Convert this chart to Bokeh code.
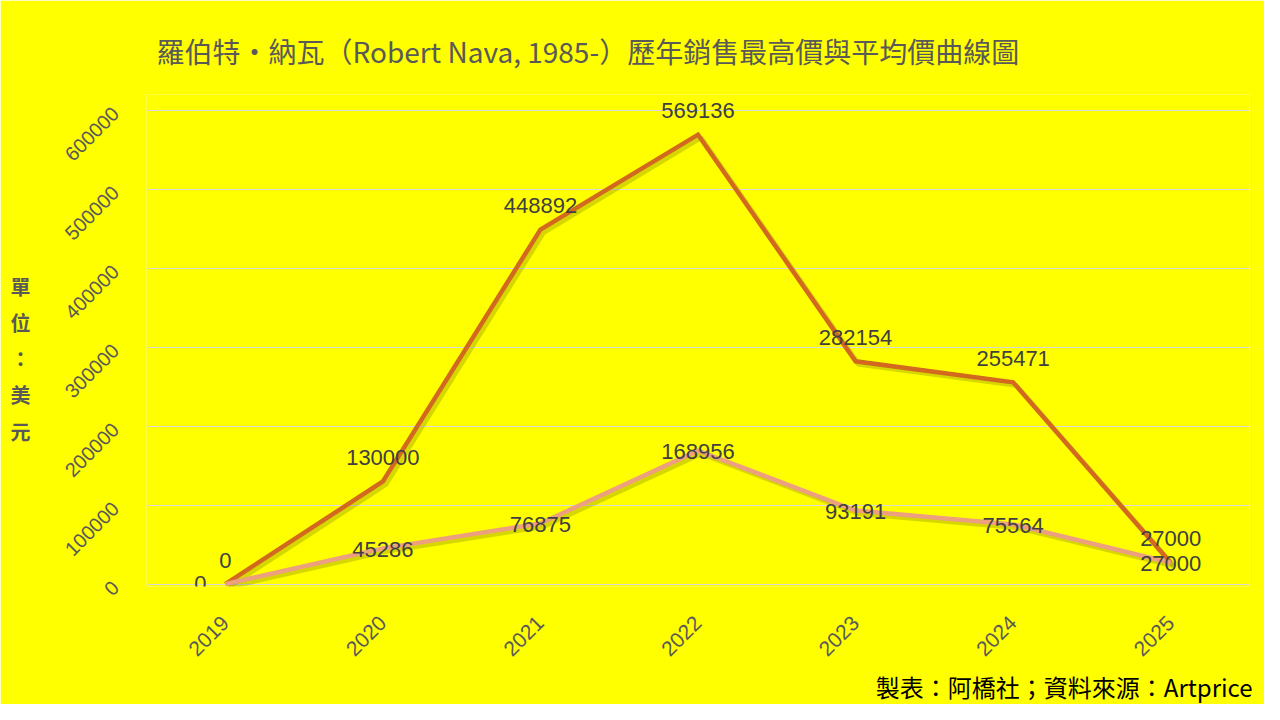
import math
from bokeh.plotting import figure
from bokeh.models import (ColumnDataSource, Title, FixedTicker, NumeralTickFormatter, Range1d)
from bokeh.core.properties import value
from bokeh.embed import file_html
from bokeh.resources import INLINE

years = ["2019", "2020", "2021", "2022", "2023", "2024", "2025"]
max_price = [0, 130000, 448892, 569136, 282154, 255471, 27000]
avg_price = [0, 45286, 76875, 168956, 93191, 75564, 27000]
y_ticks = [0, 100000, 200000, 300000, 400000, 500000, 600000]

title_text = "羅伯特・納瓦（Robert Nava, 1985-）歷年銷售最高價與平均價曲線圖"
y_title = "\n單\n位\n：\n美\n元"
footer_text = "製表：阿橋社；資料來源：Artprice"

BG = "#FFFF00"
MAX_C = "#D2691E"
AVG_C = "#EDA07E"
LBL_C = "#404040"
AX_C = "#595959"
FONT = "Liberation Sans"
CJK = "Noto Sans CJK TC"

W, H = 1264, 704
p = figure(width=W, height=H, x_range=years, y_range=Range1d(-3000, 620000),
           output_backend="svg", toolbar_location=None,
           min_border_left=146, min_border_right=15, min_border_top=94, min_border_bottom=118)
p.x_range.range_padding = 0
p.background_fill_color = BG
p.border_fill_color = BG
p.outline_line_color = None

# title
p.title.text = title_text
p.title.align = "left"
p.title.offset = 10
p.title.standoff = 48
p.title.text_font = CJK
p.title.text_font_size = "28px"
p.title.text_font_style = "normal"
p.title.text_color = AX_C

# footer
p.add_layout(Title(text=footer_text, align="right", text_font=CJK, text_font_size="24px",
                   text_font_style="normal", text_color="#000000", standoff=2, offset=-3),
             "below")

# grid
p.xgrid.grid_line_color = None
p.ygrid.grid_line_color = "#d9d9d9"
p.ygrid.grid_line_width = 1
p.ygrid.ticker = FixedTicker(ticks=y_ticks)

# axes
p.yaxis.ticker = FixedTicker(ticks=y_ticks)
p.yaxis.formatter = NumeralTickFormatter(format="0")
p.yaxis.major_label_orientation = math.pi / 4
p.yaxis.major_label_text_font = FONT
p.yaxis.major_label_text_font_size = "20px"
p.yaxis.major_label_text_color = AX_C
p.yaxis.major_label_standoff = 25
p.yaxis.axis_label = y_title
p.yaxis.axis_label_orientation = "horizontal"
p.yaxis.axis_label_text_font = CJK
p.yaxis.axis_label_text_font_size = "20px"
p.yaxis.axis_label_text_font_style = "bold"
p.yaxis.axis_label_text_color = AX_C
p.yaxis.axis_label_text_line_height = 1.25
p.yaxis.axis_label_standoff = 25
p.xaxis.major_label_orientation = math.pi / 4
p.xaxis.major_label_text_font = FONT
p.xaxis.major_label_text_font_size = "21px"
p.xaxis.major_label_text_color = AX_C
p.xaxis.major_label_standoff = 27
for ax in (p.xaxis, p.yaxis):
    ax.axis_line_color = None
    ax.major_tick_line_color = None
    ax.minor_tick_line_color = None

idx = list(range(len(years)))
# shadow offsets (approx 3px right/down)
dx = 3 / 157.6
dy = 3 / 0.000791
src = ColumnDataSource(dict(
    year=years,
    xs=[i + 0.5 + dx for i in idx],
    mx=max_price, av=avg_price,
    mxs=[v - dy for v in max_price], avs=[v - dy for v in avg_price],
    mx_t=[str(v) for v in max_price], av_t=[str(v) for v in avg_price],
))

p.line("xs", "mxs", source=src, line_color="#6f6f00", line_alpha=0.28, line_width=5)
p.line("xs", "avs", source=src, line_color="#6f6f00", line_alpha=0.28, line_width=5)
p.line("year", "mx", source=src, line_color=MAX_C, line_width=4.5, line_join="miter")
p.line("year", "av", source=src, line_color=AVG_C, line_width=4.5, line_join="miter")

# data labels: max above the points
p.text("year", "mx", text="mx_t", source=src, text_align="center", text_baseline="middle",
       y_offset=-24, text_font=value(FONT), text_font_size="22px", text_color=LBL_C)
# average labels centered on the points (except first, placed left)
avg_src = ColumnDataSource(dict(year=years[1:], av=avg_price[1:], t=[str(v) for v in avg_price[1:]]))
p.text("year", "av", text="t", source=avg_src, text_align="center", text_baseline="middle",
       y_offset=1, text_font=value(FONT), text_font_size="22px", text_color=LBL_C)
p.text(x=[years[0]], y=[avg_price[0]], text=[str(avg_price[0])], text_align="center",
       text_baseline="middle", x_offset=-25, y_offset=-1, text_font=value(FONT),
       text_font_size="22px", text_color=LBL_C)

open("out.html", "w").write(file_html(p, INLINE))
